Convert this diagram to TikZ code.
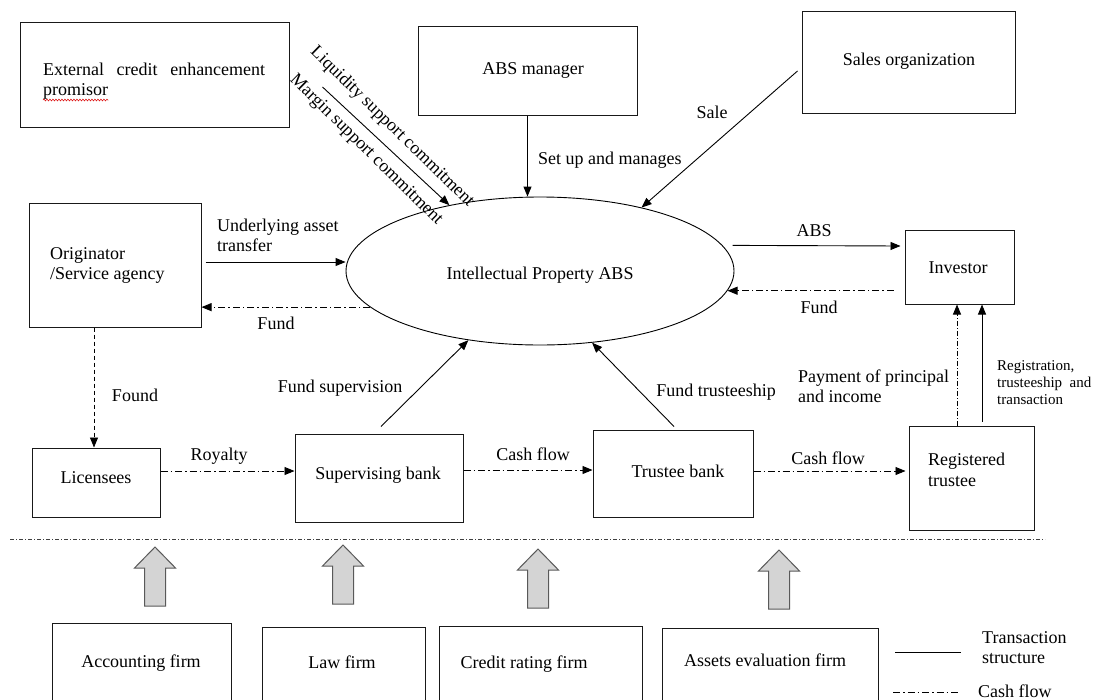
\documentclass[tikz,border=0pt]{standalone}
\usepackage{fontspec}
\setmainfont{Liberation Serif}
\usetikzlibrary{arrows.meta,calc,shapes.geometric,decorations.pathmorphing}
\begin{document}
\begin{tikzpicture}[x=1pt,y=-1pt,
  font=\fontsize{18}{20}\selectfont,
  box/.style={draw=black!90, line width=1pt, inner sep=0pt},
  txt/.style={inner sep=0pt},
  trans/.style={line width=0.9pt, -{Triangle[length=10pt,width=8pt]}},
  cashf/.style={trans, dash pattern=on 7pt off 3pt on 1.5pt off 3pt},
  dashf/.style={trans, dash pattern=on 4pt off 3pt},
  sepline/.style={line width=1pt, black!75, dash pattern=on 4pt off 2pt on 1pt off 2pt},
  blockarr/.style={draw=black!65, fill=black!17, line width=1pt, line join=miter},
  small/.style={font=\fontsize{15}{17}\selectfont}
]
\useasboundingbox (0,0) rectangle (1094,699);

% ---- boxes ----
\node[box, minimum width=269pt, minimum height=105pt] (ext) at (154.5,74.5) {};
\node[txt, anchor=base west] (extt1) at (43,75) {\makebox[222pt][s]{External credit enhancement}};
\node[txt, anchor=base west] (extt2) at (43,95) {promisor};
\draw[red!85!black, line width=0.5pt, decorate, decoration={snake, amplitude=0.9pt, segment length=3pt}]
  ($(extt2.south west)+(0,1)$) -- ($(extt2.south east)+(0,1)$);

\node[box, minimum width=219pt, minimum height=89pt] (absm) at (527.5,70.5) {};
\node[txt] (absmt) at (533,70) {ABS manager};

\node[box, minimum width=213pt, minimum height=102pt] (sales) at (908.5,62) {};
\node[txt] (salest) at (909,61) {Sales organization};

\node[box, minimum width=172pt, minimum height=124pt] (orig) at (115,265) {};
\node[txt, anchor=base west] (origt1) at (50,259) {Originator};
\node[txt, anchor=base west] (origt2) at (50,279) {/Service agency};

\node[draw, ellipse, line width=0.9pt, minimum width=388pt, minimum height=148pt, inner sep=0pt] (abs) at (540,271) {};
\node[txt] (abst) at (540,275) {Intellectual Property ABS};

\node[box, minimum width=109pt, minimum height=74pt] (inv) at (959.5,267) {};
\node[txt] (invt) at (958,268) {Investor};

\node[box, minimum width=128pt, minimum height=69pt] (lic) at (96,482.5) {};
\node[txt] (lict) at (96,478) {Licensees};

\node[box, minimum width=168pt, minimum height=88pt] (sup) at (379,478) {};
\node[txt] (supt) at (378,475) {Supervising bank};

\node[box, minimum width=160pt, minimum height=87pt] (trb) at (673,473.5) {};
\node[txt] (trbt) at (678,471) {Trustee bank};

\node[box, minimum width=125pt, minimum height=104pt] (reg) at (971.5,478) {};
\node[txt, anchor=base west] (regt1) at (928,465) {Registered};
\node[txt, anchor=base west] (regt2) at (928,486) {trustee};

% ---- connectors ----
\draw[trans] ($(ext.east)+(33,12.5)$) -- (abs.144);
\node[txt, rotate=-44.3] (liq) at (392,127) {Liquidity support commitment};
\node[txt, rotate=-44.5] (mar) at (366,150) {Margin support commitment};

\draw[trans] (absm.south) -- (absm.south |- abs.north);
\node[txt, anchor=west] (setup) at (538,160) {Set up and manages};

\draw[trans] ($(sales.west)+(-4,9)$) -- (abs.32);
\node[txt] (sale) at (712,112) {Sale};

\draw[trans] ($(orig.east)+(4,-3)$) -- ($(abs.west)+(0,-9)$);
\node[txt, anchor=west, align=left] (ua) at (217,235) {Underlying asset\\transfer};

\draw[cashf] (abs.192) -- (orig.east |- abs.192);
\node[txt] (fund1) at (276,323) {Fund};

\draw[dashf] ($(orig.south)+(-21,0)$) -- ($(lic.north)+(-2,0)$);
\node[txt] (found) at (135,395) {Found};

\draw[cashf] ($(lic.east)+(0,-11.5)$) -- ($(sup.west)+(0,-7)$);
\node[txt] (roy) at (219,456) {Royalty};

\draw[trans] ($(sup.north)+(2,-7)$) -- (abs.224);
\node[txt] (fsup) at (340,388) {Fund supervision};

\draw[cashf] ($(sup.east)+(0,-8)$) -- ($(trb.west)+(0,-3.5)$);
\node[txt] (cf1) at (533,454) {Cash flow};

\draw[trans] ($(trb.north)+(1,-3)$) -- (abs.306);
\node[txt] (ftru) at (716,392) {Fund trusteeship};

\draw[cashf] ($(trb.east)+(0,-2.5)$) -- ($(reg.west)+(-3,-7)$);
\node[txt] (cf2) at (828,458) {Cash flow};

\draw[trans, shorten <=10pt] (abs.8) -- ($(inv.west)+(-4,-21)$);
\node[txt] (absl) at (814,231) {ABS};

\draw[cashf, shorten <=11pt] (inv.west |- abs.354) -- (abs.354);
\node[txt] (fund2) at (819,307) {Fund};

\node[txt, anchor=west, align=left] (pay) at (798,386) {Payment of principal\\and income};

\draw[cashf, dash pattern=on 5pt off 2pt on 1pt off 2pt] ($(reg.north)+(-14.5,0)$) -- ($(inv.south)+(-2.5,0)$);
\draw[trans] ($(reg.north)+(10.5,-4)$) -- ($(inv.south)+(22.5,0)$);
\node[txt, small, anchor=west, align=left, font=\fontsize{15}{17}\selectfont] (regl) at (997,383) {Registration,\\trusteeship\ \ and\\transaction};

% ---- separator ----
\coordinate (sepA) at (10,539);
\coordinate (sepB) at (1045,539);
\draw[sepline] (sepA) -- (sepB);

% ---- service firms ----
\node[minimum width=178pt, minimum height=100pt, inner sep=0pt, anchor=north] (acc) at (142,623) {};
\node[minimum width=162pt, minimum height=100pt, inner sep=0pt, anchor=north] (law) at (344,627) {};
\node[minimum width=202pt, minimum height=100pt, inner sep=0pt, anchor=north] (cred) at (541,626) {};
\node[minimum width=215pt, minimum height=100pt, inner sep=0pt, anchor=north] (asset) at (770.5,628) {};
\foreach \b in {acc,law,cred,asset}{
  \draw[line width=1pt, black!90] (\b.south west) -- (\b.north west) -- (\b.north east) -- (\b.south east);
}
\node[txt] (acct) at (141,663) {Accounting firm};
\node[txt] (lawt) at (342,662) {Law firm};
\node[txt] (credt) at (524,664) {Credit rating firm};
\node[txt] (assett) at (765,660) {Assets evaluation firm};

% block arrows
\foreach \cx/\ty/\by in {155/547/606, 343/545/604, 538/549/608, 779/550/609}{
  \draw[blockarr] (\cx,\ty) -- (\cx+20.5,\ty+21) -- (\cx+10.5,\ty+21) -- (\cx+10.5,\by)
     -- (\cx-10.5,\by) -- (\cx-10.5,\ty+21) -- (\cx-20.5,\ty+21) -- cycle;
}

% ---- legend ----
\coordinate (lgA) at (895,652);
\coordinate (lgB) at (961,652);
\draw[line width=0.9pt] (lgA) -- (lgB);
\node[txt, anchor=west, align=left] (lgt1) at (982,648) {Transaction\\structure};
\coordinate (lgC) at (893,692);
\coordinate (lgD) at (961,692);
\draw[line width=0.9pt, dash pattern=on 7pt off 3pt on 1.5pt off 3pt] (lgC) -- (lgD);
\node[txt, anchor=west] (lgt2) at (978,691) {Cash flow};
\end{tikzpicture}
\end{document}
